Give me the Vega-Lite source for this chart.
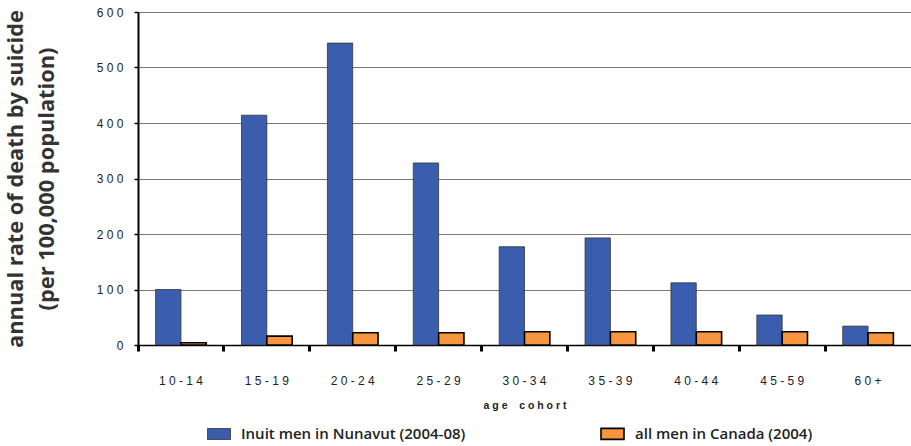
{
  "$schema": "https://vega.github.io/schema/vega-lite/v6.json",
  "width": 773,
  "height": 333,
  "autosize": "none",
  "padding": {"left": 138, "top": 12, "right": 0, "bottom": 101},
  "background": "white",
  "data": {
    "values": [
      {"age": "10-14", "series": "Inuit men in Nunavut (2004-08)", "rate": 100},
      {"age": "10-14", "series": "all men in Canada (2004)", "rate": 4},
      {"age": "15-19", "series": "Inuit men in Nunavut (2004-08)", "rate": 414},
      {"age": "15-19", "series": "all men in Canada (2004)", "rate": 16},
      {"age": "20-24", "series": "Inuit men in Nunavut (2004-08)", "rate": 544},
      {"age": "20-24", "series": "all men in Canada (2004)", "rate": 22},
      {"age": "25-29", "series": "Inuit men in Nunavut (2004-08)", "rate": 328},
      {"age": "25-29", "series": "all men in Canada (2004)", "rate": 22},
      {"age": "30-34", "series": "Inuit men in Nunavut (2004-08)", "rate": 177},
      {"age": "30-34", "series": "all men in Canada (2004)", "rate": 24},
      {"age": "35-39", "series": "Inuit men in Nunavut (2004-08)", "rate": 193},
      {"age": "35-39", "series": "all men in Canada (2004)", "rate": 24},
      {"age": "40-44", "series": "Inuit men in Nunavut (2004-08)", "rate": 112},
      {"age": "40-44", "series": "all men in Canada (2004)", "rate": 24},
      {"age": "45-59", "series": "Inuit men in Nunavut (2004-08)", "rate": 54},
      {"age": "45-59", "series": "all men in Canada (2004)", "rate": 24},
      {"age": "60+", "series": "Inuit men in Nunavut (2004-08)", "rate": 34},
      {"age": "60+", "series": "all men in Canada (2004)", "rate": 22}
    ]
  },
  "config": {
    "view": {"stroke": null},
    "font": "Liberation Sans"
  },
  "mark": {"type": "bar"},
  "encoding": {
    "x": {
      "field": "age",
      "type": "nominal",
      "sort": null,
      "scale": {"paddingInner": 0.41, "paddingOuter": 0.205},
      "axis": {
        "title": "a g e\u00a0\u00a0\u00a0\u00a0c o h o r t",
        "titleFont": "Liberation Sans",
        "titleFontSize": 10.5,
        "titleFontWeight": "bold",
        "titleColor": "#222",
        "titlePadding": 14,
        "labelAngle": 0,
        "labelExpr": "join(split(datum.label, ''), ' ')",
        "labelFontSize": 12,
        "labelColor": "#222",
        "labelPadding": 24,
        "bandPosition": -0.347,
        "tickSize": 6,
        "tickWidth": 3,
        "tickColor": "#000",
        "domainColor": "#000",
        "domainWidth": 1.5,
        "grid": false
      }
    },
    "xOffset": {
      "field": "series",
      "type": "nominal",
      "sort": null,
      "scale": {"paddingInner": 0, "paddingOuter": 0}
    },
    "y": {
      "field": "rate",
      "type": "quantitative",
      "scale": {"domain": [0, 600]},
      "axis": {
        "values": [0, 100, 200, 300, 400, 500, 600],
        "title": ["annual rate of death by suicide", "(per 100,000 population)"],
        "titleFont": "Open Sans",
        "titleFontSize": 21.8,
        "titleFontWeight": "bold",
        "titleColor": "#333",
        "titleLineHeight": 31,
        "titlePadding": 38,
        "labelExpr": "join(split(datum.label, ''), ' ')",
        "labelFontSize": 12,
        "labelColor": "#222",
        "labelPadding": 11,
        "tickSize": 4,
        "tickColor": "#000",
        "tickWidth": 1.5,
        "domainColor": "#000",
        "domainWidth": 2,
        "grid": true,
        "gridColor": "#7a7a7a",
        "gridWidth": 1
      }
    },
    "fill": {
      "field": "series",
      "type": "nominal",
      "sort": null,
      "scale": {"range": ["#3A5EAD", "#F7963F"]},
      "legend": {
        "title": null,
        "orient": "none",
        "legendX": 69,
        "legendY": 409,
        "direction": "horizontal",
        "symbolType": "M-1,-0.48H1V0.48H-1Z",
        "symbolSize": 529,
        "symbolStrokeColor": "#222",
        "symbolStrokeWidth": 1,
        "labelFont": "Open Sans",
        "labelFontSize": 15,
        "labelFontWeight": 600,
        "labelColor": "#222",
        "labelOffset": 10,
        "labelLimit": 400,
        "columnPadding": 131
      }
    },
    "stroke": {
      "field": "series",
      "type": "nominal",
      "sort": null,
      "scale": {"range": ["#333", "#000"]},
      "legend": null
    },
    "strokeWidth": {
      "field": "series",
      "type": "nominal",
      "sort": null,
      "scale": {"range": [0.8, 1.6]},
      "legend": null
    }
  }
}
